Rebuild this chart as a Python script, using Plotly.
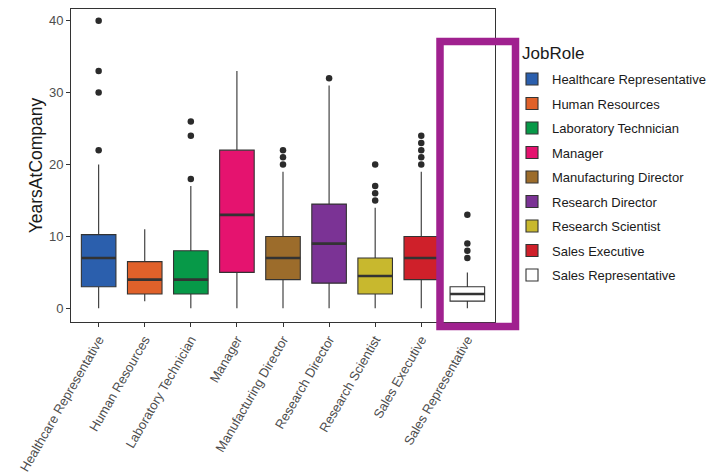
import plotly.graph_objects as go

roles = ["Healthcare Representative", "Human Resources", "Laboratory Technician",
         "Manager", "Manufacturing Director", "Research Director",
         "Research Scientist", "Sales Executive", "Sales Representative"]
q1 = [3, 2, 2, 5, 4, 3.5, 2, 4, 1]
median = [7, 4, 4, 13, 7, 9, 4.5, 7, 2]
q3 = [10.25, 6.5, 8, 22, 10, 14.5, 7, 10, 3]
lower = [0, 1, 0, 0, 0, 0, 0, 0, 0]
upper = [20, 11, 17, 33, 19, 31, 14, 19, 5]
outliers = [[22, 30, 33, 40], [], [18, 24, 26], [], [20, 21, 22], [32],
            [15, 16, 17, 20], [20, 21, 22, 23, 24], [7, 8, 9, 13]]
colors = ["#2b5fad", "#e0612a", "#079948", "#e5136f", "#9c6c2b", "#7b3395",
          "#c8b82e", "#cf202a", "#ffffff"]

FONT = "Liberation Sans, Arial, sans-serif"
DARK = "#333333"
BW = 0.75
# page offset (browser body margin) is 8px; panel in page px: x 71..495, y 9..322
PX0, PX1, PY0, PY1 = 71, 495, 9, 322
def px(x):
    return (x - PX0) / (PX1 - PX0)
def py(y):
    return (PY1 - y) / (PY1 - PY0)

fig = go.Figure()
for i, r in enumerate(roles):
    fig.add_trace(go.Box(
        x=[i], q1=[q1[i]], median=[median[i]], q3=[q3[i]],
        lowerfence=[lower[i]], upperfence=[upper[i]],
        name=r, fillcolor=colors[i], width=BW, whiskerwidth=0,
        line=dict(color=DARK, width=1.1), boxpoints=False,
        legendgroup=r, showlegend=True, hoverinfo="skip"))
for i, r in enumerate(roles):
    fig.add_trace(go.Scatter(
        x=[i - BW / 2, i + BW / 2], y=[median[i], median[i]], mode="lines",
        line=dict(color=DARK, width=2.6), showlegend=False, hoverinfo="skip"))
    if outliers[i]:
        fig.add_trace(go.Scatter(
            x=[i] * len(outliers[i]), y=outliers[i], mode="markers",
            marker=dict(color="#2b2b2b", size=6.5), showlegend=False,
            hoverinfo="skip"))

fig.add_shape(type="rect", xref="paper", yref="paper",
              x0=px(440), x1=px(515.5), y0=py(326.5), y1=py(41.5),
              line=dict(color="#a0218f", width=7.5), layer="above")

fig.add_annotation(text="JobRole", xref="paper", yref="paper",
                   x=px(520), y=py(42), xanchor="left", yanchor="top",
                   showarrow=False, font=dict(size=17, color="#1a1a1a", family=FONT))

fig.update_layout(
    width=713, height=466,
    margin=dict(l=63, r=226, t=1, b=152),
    paper_bgcolor="white", plot_bgcolor="white",
    boxmode="overlay",
    font=dict(family=FONT, size=13, color="#4d4d4d"),
    showlegend=True,
    legend=dict(font=dict(size=13, color="#1a1a1a"),
                x=px(512), y=py(64), xanchor="left", yanchor="top",
                tracegroupgap=4.6, bgcolor="rgba(0,0,0,0)"),
    xaxis=dict(range=[-0.6, 8.6], tickmode="array", tickvals=list(range(len(roles))),
               ticktext=roles, tickangle=-60, ticks="outside", ticklen=4,
               tickcolor=DARK, showgrid=False, zeroline=False, automargin=False,
               showline=True, linecolor=DARK, linewidth=1, mirror=True,
               tickfont=dict(size=13, color="#4d4d4d")),
    yaxis=dict(range=[-1.9, 41.63], tickvals=[0, 10, 20, 30, 40], ticks="outside",
               ticklen=4, tickcolor=DARK, showgrid=False, zeroline=False,
               automargin=False,
               showline=True, linecolor=DARK, linewidth=1, mirror=True,
               tickfont=dict(size=13, color="#4d4d4d"),
               title=dict(text="YearsAtCompany", font=dict(size=17.5, color="#1a1a1a"),
                          standoff=1)),
)

fig.write_html("out.html")
